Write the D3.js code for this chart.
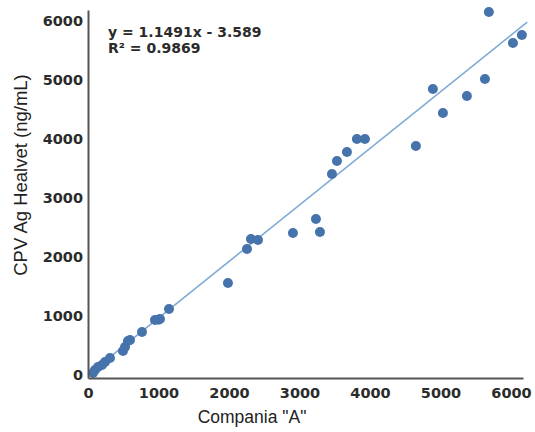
<!DOCTYPE html>
<html>
<head>
<meta charset="utf-8">
<script src="https://cdn.jsdelivr.net/npm/d3@7"></script>
<style>
  body { margin: 0; background: #fff; }
  svg { display: block; }
  .tick text { font-family: "DejaVu Sans", sans-serif; font-weight: bold; fill: #2b2b2b; }
</style>
</head>
<body>
<svg id="chart"></svg>
<script>
// values
const companiaA = [71, 99, 142, 199, 241, 312, 496, 525, 567, 596, 766, 950, 1000, 1021, 1149,
    1985, 2255, 2311, 2411, 2907, 3233, 3290, 3460, 3531, 3673, 3814, 3928, 4651,
    4892, 5034, 5374, 5630, 5686, 6027, 6154];
const healvet = [34, 85, 135, 169, 220, 288, 406, 474, 576, 592, 728, 931, 935, 948, 1117,
    1558, 2133, 2302, 2286, 2404, 2641, 2421, 3403, 3623, 3775, 3995, 3995, 3877,
    4842, 4436, 4723, 5011, 6146, 5621, 5756];
const xTicks = [0, 1000, 2000, 3000, 4000, 5000, 6000];
const yTicks = [0, 1000, 2000, 3000, 4000, 5000, 6000];
const equationLines = ["y = 1.1491x - 3.589", "R² = 0.9869"];
// trend line ends as drawn in the picture
const trendX = [0, 6230];
const trendY = [7, 5975];

const width = 535, height = 432;
const svg = d3.select("#chart").attr("width", width).attr("height", height);

const points = companiaA.map((x, i) => ({ x: x, y: healvet[i] }));

const x = d3.scaleLinear().domain([0, 6170]).range([88, 523]);
const y = d3.scaleLinear().domain([-50, 6180]).range([378, 10]);

svg.append("line")
    .attr("x1", x(trendX[0])).attr("y1", y(trendY[0]))
    .attr("x2", x(trendX[1])).attr("y2", y(trendY[1]))
    .attr("stroke", "#7eaad6")
    .attr("stroke-width", 1.6);

svg.append("g").selectAll("circle")
    .data(points)
    .enter().append("circle")
    .attr("cx", d => x(d.x))
    .attr("cy", d => y(d.y))
    .attr("r", 5)
    .attr("fill", "#4673ab");

// axes
const fmt = d3.format("d");
const xAxis = svg.append("g")
    .attr("transform", "translate(0,378)")
    .call(d3.axisBottom(x).tickValues(xTicks).tickFormat(fmt).tickSize(0).tickPadding(10).tickSizeOuter(0));
const yAxis = svg.append("g")
    .attr("transform", "translate(88,0)")
    .call(d3.axisLeft(y).tickValues(yTicks).tickFormat(fmt).tickSize(0).tickPadding(5).tickSizeOuter(0));

[xAxis, yAxis].forEach(g => {
    g.select(".domain").attr("stroke", "#555").attr("stroke-width", 2);
    g.selectAll(".tick text").style("font-size", "14.5px");
});

// equation
svg.append("text")
    .attr("x", 108).attr("y", 37)
    .style("font-family", "DejaVu Sans, sans-serif")
    .style("font-weight", "bold")
    .style("font-size", "14px")
    .attr("fill", "#2b2b2b")
    .selectAll("tspan")
    .data(equationLines)
    .enter().append("tspan")
    .attr("x", 108)
    .attr("dy", (d, i) => i === 0 ? 0 : 16)
    .text(d => d);

// axis titles
svg.append("text")
    .attr("x", 252).attr("y", 423)
    .attr("text-anchor", "middle")
    .style("font-family", "Liberation Sans, Arial, sans-serif")
    .style("font-size", "17.5px")
    .attr("fill", "#222")
    .text('Compania "A"');

svg.append("text")
    .attr("transform", "translate(27,175) rotate(-90)")
    .attr("text-anchor", "middle")
    .style("font-family", "Liberation Sans, Arial, sans-serif")
    .style("font-size", "18.5px")
    .attr("fill", "#222")
    .text("CPV Ag Healvet (ng/mL)");
</script>
</body>
</html>
